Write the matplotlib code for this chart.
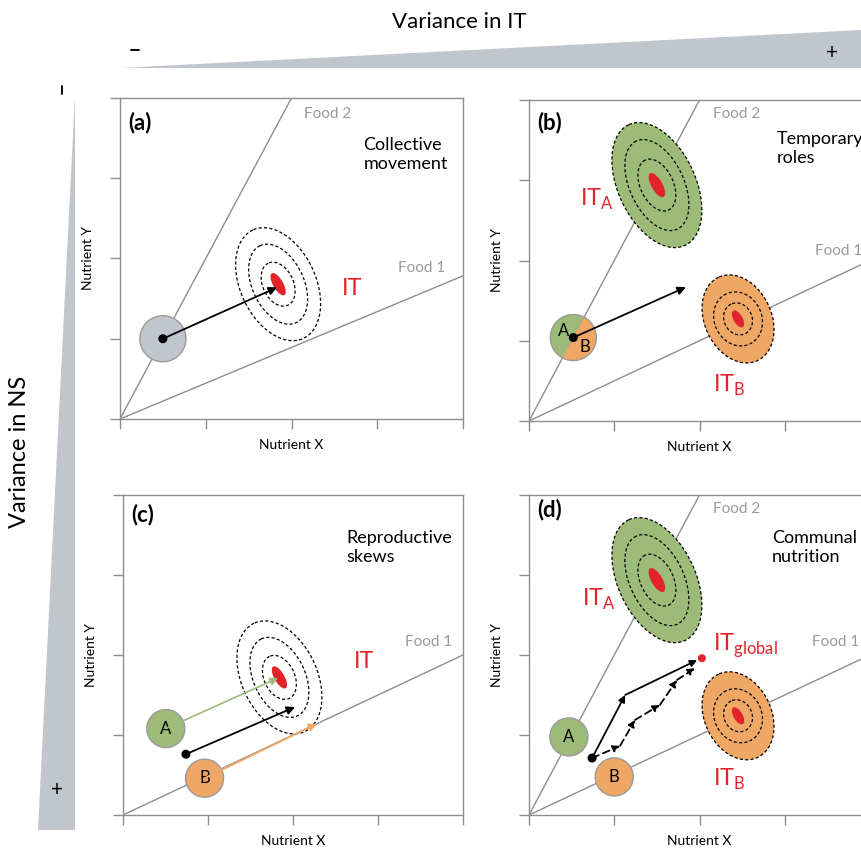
import numpy as np
import matplotlib.pyplot as plt
from matplotlib.patches import Polygon, FancyArrowPatch

plt.rcParams['font.family'] = ['Lato', 'DejaVu Sans']
plt.rcParams['mathtext.fontset'] = 'custom'
plt.rcParams['mathtext.rm'] = 'Lato'
NARROW = ['Liberation Sans Narrow', 'Lato', 'DejaVu Sans']

# colours
GREEN = '#9dbb78'
ORANGE = '#efa766'
GREY_DISC = '#c1c5cc'
RED = '#e3232a'
LINE_GREY = '#8e8e8e'
TEXT_GREY = '#9a9a9a'

# ---- data (nutrient space, arbitrary units 0..1) ----
ticks = [0, 0.25, 0.5, 0.75, 1.0]
panel_tags = ['(a)', '(b)', '(c)', '(d)']
panel_titles = ['Collective\nmovement', 'Temporary\nroles', 'Reproductive\nskews', 'Communal\nnutrition']
food1_slope = [0.446, 0.5, 0.5, 0.5]
food2_slope = [2.0, 2.0, None, 2.0]

# (a)
a_group = (0.125, 0.25)
a_target = (0.461, 0.42)
a_arrow_end = (0.458, 0.41)
# (b)
b_group = (0.13, 0.26)
b_targetA = (0.375, 0.735)
b_targetB = (0.613, 0.318)
b_arrow_end = (0.46, 0.417)
# (c)
c_indA = (0.126, 0.27)
c_indB = (0.24, 0.115)
c_group = (0.185, 0.19)
c_target = (0.46, 0.43)
c_endA = (0.456, 0.428)
c_endG = (0.506, 0.3375)
c_endB = (0.57, 0.285)
# (d)
d_indA = (0.117, 0.244)
d_indB = (0.25, 0.119)
d_group = (0.185, 0.178)
d_targetA = (0.375, 0.734)
d_targetB = (0.613, 0.31)
d_global = (0.507, 0.49)
d_solid_x = [0.185, 0.282, 0.493]
d_solid_y = [0.178, 0.375, 0.484]
d_dash_x = [0.185, 0.267, 0.311, 0.384, 0.434, 0.487]
d_dash_y = [0.178, 0.216, 0.297, 0.344, 0.422, 0.459]

W, H = 861, 849
fig = plt.figure(figsize=(W / 100, H / 100), dpi=100)

# background layer in pixel coordinates for the two gradient wedges
bg = fig.add_axes([0, 0, 1, 1], zorder=0)
bg.set_xlim(0, W)
bg.set_ylim(H, 0)
bg.axis('off')
bg.add_patch(Polygon([(120, 68), (861, 30), (861, 68)], closed=True, fc=GREY_DISC, ec='none'))
bg.add_patch(Polygon([(75, 95), (75, 830), (38, 830)], closed=True, fc=GREY_DISC, ec='none'))
bg.text(459, 22, 'Variance in IT', ha='center', va='center', fontsize=16, family=NARROW)
bg.text(135, 50, '\u2212', ha='center', va='center', fontsize=15, fontweight='bold')
bg.text(832, 53, '+', ha='center', va='center', fontsize=15)
bg.text(20, 452, 'Variance in NS', ha='center', va='center', fontsize=17, rotation=90, family=NARROW)
bg.text(62, 88, '\u2212', ha='center', va='center', fontsize=15, rotation=90, fontweight='bold')
bg.text(57, 790, '+', ha='center', va='center', fontsize=15)

rects = [(120, 98, 343, 321), (529, 100, 341, 321), (123, 495, 340, 320), (529, 495, 341, 320)]


def make_axes(r):
    x, y, w, h = r
    ax = fig.add_axes([x / W, 1 - (y + h) / H, w / W, h / H], zorder=2)
    ax.set_xlim(0, 1)
    ax.set_ylim(0, 1)
    ax.set_xticks(ticks)
    ax.set_yticks(ticks)
    ax.set_xticklabels([])
    ax.set_yticklabels([])
    ax.tick_params(direction='out', length=7, width=1, color=LINE_GREY)
    for s in ax.spines.values():
        s.set_color(LINE_GREY)
        s.set_linewidth(1)
    ax.patch.set_alpha(0)
    ax.set_xlabel('Nutrient X', fontsize=10, labelpad=4)
    ax.set_ylabel('Nutrient Y', fontsize=10, labelpad=8, family=NARROW)
    ax.px = (w, h)
    return ax


def outline(ax, c, a, b, ang, t0=0, t1=2 * np.pi, n=200):
    # ellipse with semi-axes a, b in pixels, rotated ang degrees, returned in data units
    t = np.linspace(t0, t1, n)
    th = np.deg2rad(ang)
    ex, ey = a * np.cos(t), b * np.sin(t)
    rx = ex * np.cos(th) - ey * np.sin(th)
    ry = ex * np.sin(th) + ey * np.cos(th)
    return c[0] + rx / ax.px[0], c[1] + ry / ax.px[1]


def disc(ax, c, r, fc, label=None):
    xs, ys = outline(ax, c, r, r, 0)
    ax.fill(xs, ys, fc=fc, ec='#9a9a9a', lw=1, zorder=3)
    if label:
        ax.text(c[0], c[1], label, ha='center', va='center', fontsize=12, zorder=4)


def dot(ax, c, r=4.5, color='k'):
    xs, ys = outline(ax, c, r, r, 0)
    ax.fill(xs, ys, fc=color, ec='none', zorder=6)


def target(ax, c, rings, core, fill=None):
    if fill is not None:
        xs, ys = outline(ax, c, *rings[0], 115)
        ax.fill(xs, ys, fc=fill, ec='none', zorder=3)
    for a, b in rings:
        xs, ys = outline(ax, c, a, b, 115)
        ax.plot(xs, ys, color='k', lw=0.9, ls=(0, (2.5, 1.8)), zorder=4)
    xs, ys = outline(ax, c, core[0], core[1], 120)
    ax.fill(xs, ys, fc=RED, ec='none', zorder=5)


def arrow(ax, p0, p1, color='k', ls='-', lw=1.3, ms=12):
    ar = FancyArrowPatch(p0, p1, arrowstyle='-|>', mutation_scale=ms, color=color,
                         lw=lw, linestyle=ls, shrinkA=0, shrinkB=0, zorder=5)
    ax.add_patch(ar)


def food_lines(ax, i):
    ax.plot([0, 1], [0, food1_slope[i]], color=LINE_GREY, lw=1, zorder=1, clip_on=True)
    if food2_slope[i] is not None:
        ax.plot([0, 1], [0, food2_slope[i]], color=LINE_GREY, lw=1, zorder=1, clip_on=True)


axes = [make_axes(r) for r in rects]

small_rings = [(59.8, 37.7), (42.5, 25.8), (23.2, 15.3)]
big_rings = [(66.6, 38.7), (48.6, 27.1), (27.6, 16.5)]
orange_rings = [(46, 33.4), (27.7, 23.7), (16.4, 14)]

# ---- (a) ----
ax = axes[0]
food_lines(ax, 0)
disc(ax, a_group, 23, GREY_DISC)
dot(ax, a_group)
target(ax, a_target, small_rings, (12.5, 5))
arrow(ax, a_group, a_arrow_end)
ax.text(0.536, 0.95, 'Food 2', color=TEXT_GREY, fontsize=11, va='center')
ax.text(0.81, 0.47, 'Food 1', color=TEXT_GREY, fontsize=11, va='center')
ax.text(0.647, 0.405, 'IT', color=RED, fontsize=17, va='center')

# ---- (b) ----
ax = axes[1]
food_lines(ax, 1)
target(ax, b_targetA, big_rings, (13.5, 5.5), fill=GREEN)
target(ax, b_targetB, orange_rings, (9.5, 4.5), fill=ORANGE)
split = np.rad2deg(np.arctan2(2 * ax.px[1], ax.px[0]))
for t0, col in [(split, GREEN), (split + 180, ORANGE)]:
    xs, ys = outline(ax, b_group, 23, 23, 0, np.deg2rad(t0), np.deg2rad(t0 + 180))
    ax.fill(np.r_[xs, b_group[0]], np.r_[ys, b_group[1]], fc=col, ec='none', zorder=3)
xs, ys = outline(ax, b_group, 23, 23, 0)
ax.plot(xs, ys, color='#9a9a9a', lw=1, zorder=3)
ax.text(b_group[0] - 0.03, b_group[1] + 0.02, 'A', fontsize=12, ha='center', va='center', zorder=4)
ax.text(b_group[0] + 0.033, b_group[1] - 0.03, 'B', fontsize=12, ha='center', va='center', zorder=4)
dot(ax, b_group)
arrow(ax, b_group, b_arrow_end)
ax.text(0.54, 0.956, 'Food 2', color=TEXT_GREY, fontsize=11, va='center')
ax.text(0.84, 0.53, 'Food 1', color=TEXT_GREY, fontsize=11, va='center')
ax.text(0.15, 0.69, r'IT$_{\mathrm{A}}$', color=RED, fontsize=17, va='center')
ax.text(0.54, 0.11, r'IT$_{\mathrm{B}}$', color=RED, fontsize=17, va='center')

# ---- (c) ----
ax = axes[2]
food_lines(ax, 2)
target(ax, c_target, small_rings, (12.5, 5))
arrow(ax, c_indA, c_endA, color=GREEN, lw=1.2, ms=11)
arrow(ax, c_indB, c_endB, color=ORANGE, lw=1.4, ms=11)
disc(ax, c_indA, 19, GREEN, 'A')
disc(ax, c_indB, 19, ORANGE, 'B')
dot(ax, c_group)
arrow(ax, c_group, c_endG)
ax.text(0.83, 0.54, 'Food 1', color=TEXT_GREY, fontsize=11, va='center')
ax.text(0.68, 0.48, 'IT', color=RED, fontsize=17, va='center')

# ---- (d) ----
ax = axes[3]
food_lines(ax, 3)
target(ax, d_targetA, big_rings, (13.5, 5.5), fill=GREEN)
target(ax, d_targetB, orange_rings, (9.5, 4.5), fill=ORANGE)
disc(ax, d_indA, 19, GREEN, 'A')
disc(ax, d_indB, 19, ORANGE, 'B')
for k in range(len(d_solid_x) - 1):
    arrow(ax, (d_solid_x[k], d_solid_y[k]), (d_solid_x[k + 1], d_solid_y[k + 1]), ms=10)
for k in range(len(d_dash_x) - 1):
    arrow(ax, (d_dash_x[k], d_dash_y[k]), (d_dash_x[k + 1], d_dash_y[k + 1]), ls=(0, (4, 2.5)), ms=10)
dot(ax, d_group)
dot(ax, d_global, r=4, color=RED)
ax.text(0.54, 0.956, 'Food 2', color=TEXT_GREY, fontsize=11, va='center')
ax.text(0.83, 0.54, 'Food 1', color=TEXT_GREY, fontsize=11, va='center')
ax.text(0.155, 0.675, r'IT$_{\mathrm{A}}$', color=RED, fontsize=17, va='center')
ax.text(0.54, 0.11, r'IT$_{\mathrm{B}}$', color=RED, fontsize=17, va='center')
ax.text(0.54, 0.53, r'IT$_{\mathrm{global}}$', color=RED, fontsize=17, va='center')

# tags and titles
title_pos = [(0.71, 0.825), (0.727, 0.85), (0.656, 0.835), (0.713, 0.835)]
tag_y = [0.925, 0.93, 0.94, 0.956]
for i, ax in enumerate(axes):
    ax.text(0.023, tag_y[i], panel_tags[i], fontsize=16, fontweight='bold', va='center')
    ax.text(title_pos[i][0], title_pos[i][1], panel_titles[i], fontsize=13, va='center',
            linespacing=1.25)

fig.savefig('out.png', dpi=100)
